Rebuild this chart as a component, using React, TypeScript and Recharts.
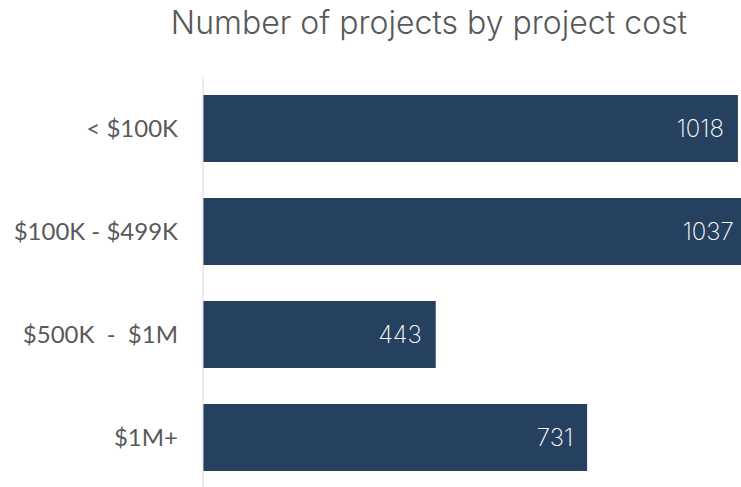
import React from "react";
import { BarChart, Bar, XAxis, YAxis, LabelList } from "recharts";

const categories = ["< $100K", "$100K - $499K", "$500K\u00a0 -\u00a0 $1M", "$1M+"];
const projectCounts = [1018, 1037, 443, 731];
const title = "Number of projects by project cost";

const data = categories.map((c, i) => ({ category: c, count: projectCounts[i] }));

const FONT = "Lato, 'Open Sans', 'Noto Sans', sans-serif";
const LIGHT = "Inter, Lato, sans-serif";

export default function App() {
  return (
    <div
      style={{
        position: "fixed",
        left: 0,
        top: 0,
        width: 741,
        height: 487,
        overflow: "hidden",
        background: "#ffffff",
      }}
    >
      <div
        style={{
          position: "absolute",
          left: 0,
          top: 3,
          width: 858,
          textAlign: "center",
          fontFamily: LIGHT,
          fontWeight: 300,
          fontSize: 32,
          lineHeight: "40px",
          color: "#595959",
          whiteSpace: "nowrap",
        }}
      >
        {title}
      </div>
      <BarChart
        width={781}
        height={489}
        data={data}
        layout="vertical"
        margin={{ top: 77, right: 0, bottom: 0, left: 0 }}
        barCategoryGap={18}
      >
        <XAxis type="number" hide domain={[0, 1100]} />
        <YAxis
          type="category"
          dataKey="category"
          width={203}
          tickSize={0}
          tickMargin={25}
          axisLine={{ stroke: "#D9D9D9", strokeWidth: 1 }}
          tickLine={false}
          tick={{ fill: "#595959", fontSize: 24, fontFamily: FONT }}
          interval={0}
        />
        <Bar dataKey="count" fill="#26405F" isAnimationActive={false}>
          <LabelList
            dataKey="count"
            position="insideRight"
            offset={14}
            fill="#ffffff"
            style={{ fontFamily: LIGHT, fontWeight: 200, fontSize: 24 }}
          />
        </Bar>
      </BarChart>
    </div>
  );
}
